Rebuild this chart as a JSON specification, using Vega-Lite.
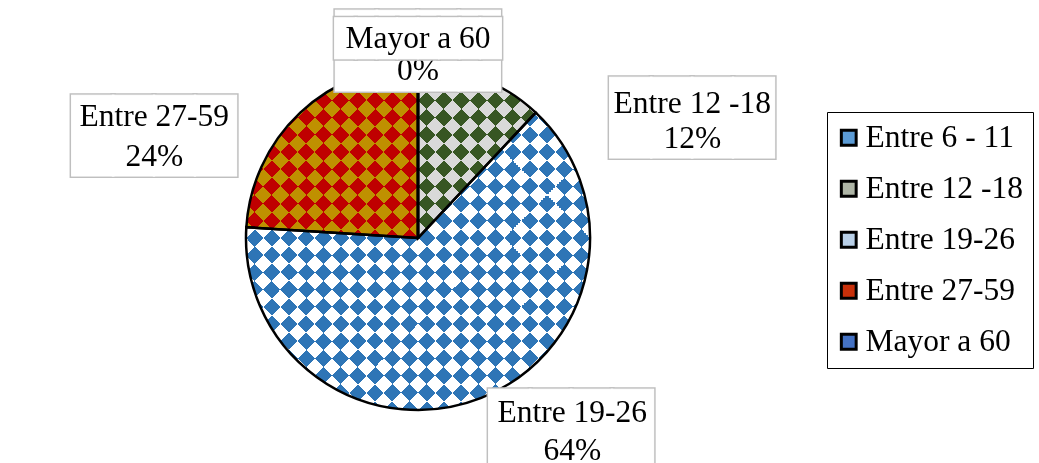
{
  "$schema": "https://vega.github.io/schema/vega-lite/v6.json",
  "autosize": "none",
  "padding": {"left": 8, "top": 10, "right": 0, "bottom": 0},
  "width": 1040,
  "height": 470,
  "background": "#ffffff",
  "config": {
    "view": {"stroke": "#000000", "strokeWidth": 2},
    "text": {"font": "Liberation Serif", "fontSize": 31.5, "fill": "#000000"}
  },
  "data": {
    "values": [
      {"grupo": "Entre 6 - 11", "porcentaje": 0},
      {"grupo": "Entre 12 -18", "porcentaje": 0.12},
      {"grupo": "Entre 19-26", "porcentaje": 0.64},
      {"grupo": "Entre 27-59", "porcentaje": 0.24},
      {"grupo": "Mayor a 60", "porcentaje": 0}
    ]
  },
  "resolve": {"scale": {"color": "independent"}, "legend": {"color": "independent"}},
  "layer": [
    {
      "transform": [{"aggregate": [{"op": "sum", "field": "porcentaje", "as": "porcentaje"}]}],
      "mark": {
        "type": "arc", "x": 410, "y": 228, "radius": 172,
        "fill": {
          "gradient": "linear", "x1": 0, "y1": 0, "x2": 1, "y2": 1,
          "stops": [
            {"offset": 0, "color": "#fff"}, {"offset": 0.025, "color": "#fff"},
            {"offset": 0.025, "color": "#000"}, {"offset": 0.05, "color": "#000"},
            {"offset": 0.05, "color": "#fff"}, {"offset": 0.075, "color": "#fff"},
            {"offset": 0.075, "color": "#000"}, {"offset": 0.1, "color": "#000"},
            {"offset": 0.1, "color": "#fff"}, {"offset": 0.125, "color": "#fff"},
            {"offset": 0.125, "color": "#000"}, {"offset": 0.15, "color": "#000"},
            {"offset": 0.15, "color": "#fff"}, {"offset": 0.175, "color": "#fff"},
            {"offset": 0.175, "color": "#000"}, {"offset": 0.2, "color": "#000"},
            {"offset": 0.2, "color": "#fff"}, {"offset": 0.225, "color": "#fff"},
            {"offset": 0.225, "color": "#000"}, {"offset": 0.25, "color": "#000"},
            {"offset": 0.25, "color": "#fff"}, {"offset": 0.275, "color": "#fff"},
            {"offset": 0.275, "color": "#000"}, {"offset": 0.3, "color": "#000"},
            {"offset": 0.3, "color": "#fff"}, {"offset": 0.325, "color": "#fff"},
            {"offset": 0.325, "color": "#000"}, {"offset": 0.35, "color": "#000"},
            {"offset": 0.35, "color": "#fff"}, {"offset": 0.375, "color": "#fff"},
            {"offset": 0.375, "color": "#000"}, {"offset": 0.4, "color": "#000"},
            {"offset": 0.4, "color": "#fff"}, {"offset": 0.425, "color": "#fff"},
            {"offset": 0.425, "color": "#000"}, {"offset": 0.45, "color": "#000"},
            {"offset": 0.45, "color": "#fff"}, {"offset": 0.475, "color": "#fff"},
            {"offset": 0.475, "color": "#000"}, {"offset": 0.5, "color": "#000"},
            {"offset": 0.5, "color": "#fff"}, {"offset": 0.525, "color": "#fff"},
            {"offset": 0.525, "color": "#000"}, {"offset": 0.55, "color": "#000"},
            {"offset": 0.55, "color": "#fff"}, {"offset": 0.575, "color": "#fff"},
            {"offset": 0.575, "color": "#000"}, {"offset": 0.6, "color": "#000"},
            {"offset": 0.6, "color": "#fff"}, {"offset": 0.625, "color": "#fff"},
            {"offset": 0.625, "color": "#000"}, {"offset": 0.65, "color": "#000"},
            {"offset": 0.65, "color": "#fff"}, {"offset": 0.675, "color": "#fff"},
            {"offset": 0.675, "color": "#000"}, {"offset": 0.7, "color": "#000"},
            {"offset": 0.7, "color": "#fff"}, {"offset": 0.725, "color": "#fff"},
            {"offset": 0.725, "color": "#000"}, {"offset": 0.75, "color": "#000"},
            {"offset": 0.75, "color": "#fff"}, {"offset": 0.775, "color": "#fff"},
            {"offset": 0.775, "color": "#000"}, {"offset": 0.8, "color": "#000"},
            {"offset": 0.8, "color": "#fff"}, {"offset": 0.825, "color": "#fff"},
            {"offset": 0.825, "color": "#000"}, {"offset": 0.85, "color": "#000"},
            {"offset": 0.85, "color": "#fff"}, {"offset": 0.875, "color": "#fff"},
            {"offset": 0.875, "color": "#000"}, {"offset": 0.9, "color": "#000"},
            {"offset": 0.9, "color": "#fff"}, {"offset": 0.925, "color": "#fff"},
            {"offset": 0.925, "color": "#000"}, {"offset": 0.95, "color": "#000"},
            {"offset": 0.95, "color": "#fff"}, {"offset": 0.975, "color": "#fff"},
            {"offset": 0.975, "color": "#000"}, {"offset": 1, "color": "#000"}
          ]
        }
      },
      "encoding": {"theta": {"field": "porcentaje", "type": "quantitative", "stack": true}}
    },
    {
      "transform": [{"aggregate": [{"op": "sum", "field": "porcentaje", "as": "porcentaje"}]}],
      "mark": {
        "type": "arc", "x": 410, "y": 228, "radius": 172, "blend": "difference",
        "fill": {
          "gradient": "linear", "x1": 0, "y1": 1, "x2": 1, "y2": 0,
          "stops": [
            {"offset": 0, "color": "#fff"}, {"offset": 0.025, "color": "#fff"},
            {"offset": 0.025, "color": "#000"}, {"offset": 0.05, "color": "#000"},
            {"offset": 0.05, "color": "#fff"}, {"offset": 0.075, "color": "#fff"},
            {"offset": 0.075, "color": "#000"}, {"offset": 0.1, "color": "#000"},
            {"offset": 0.1, "color": "#fff"}, {"offset": 0.125, "color": "#fff"},
            {"offset": 0.125, "color": "#000"}, {"offset": 0.15, "color": "#000"},
            {"offset": 0.15, "color": "#fff"}, {"offset": 0.175, "color": "#fff"},
            {"offset": 0.175, "color": "#000"}, {"offset": 0.2, "color": "#000"},
            {"offset": 0.2, "color": "#fff"}, {"offset": 0.225, "color": "#fff"},
            {"offset": 0.225, "color": "#000"}, {"offset": 0.25, "color": "#000"},
            {"offset": 0.25, "color": "#fff"}, {"offset": 0.275, "color": "#fff"},
            {"offset": 0.275, "color": "#000"}, {"offset": 0.3, "color": "#000"},
            {"offset": 0.3, "color": "#fff"}, {"offset": 0.325, "color": "#fff"},
            {"offset": 0.325, "color": "#000"}, {"offset": 0.35, "color": "#000"},
            {"offset": 0.35, "color": "#fff"}, {"offset": 0.375, "color": "#fff"},
            {"offset": 0.375, "color": "#000"}, {"offset": 0.4, "color": "#000"},
            {"offset": 0.4, "color": "#fff"}, {"offset": 0.425, "color": "#fff"},
            {"offset": 0.425, "color": "#000"}, {"offset": 0.45, "color": "#000"},
            {"offset": 0.45, "color": "#fff"}, {"offset": 0.475, "color": "#fff"},
            {"offset": 0.475, "color": "#000"}, {"offset": 0.5, "color": "#000"},
            {"offset": 0.5, "color": "#fff"}, {"offset": 0.525, "color": "#fff"},
            {"offset": 0.525, "color": "#000"}, {"offset": 0.55, "color": "#000"},
            {"offset": 0.55, "color": "#fff"}, {"offset": 0.575, "color": "#fff"},
            {"offset": 0.575, "color": "#000"}, {"offset": 0.6, "color": "#000"},
            {"offset": 0.6, "color": "#fff"}, {"offset": 0.625, "color": "#fff"},
            {"offset": 0.625, "color": "#000"}, {"offset": 0.65, "color": "#000"},
            {"offset": 0.65, "color": "#fff"}, {"offset": 0.675, "color": "#fff"},
            {"offset": 0.675, "color": "#000"}, {"offset": 0.7, "color": "#000"},
            {"offset": 0.7, "color": "#fff"}, {"offset": 0.725, "color": "#fff"},
            {"offset": 0.725, "color": "#000"}, {"offset": 0.75, "color": "#000"},
            {"offset": 0.75, "color": "#fff"}, {"offset": 0.775, "color": "#fff"},
            {"offset": 0.775, "color": "#000"}, {"offset": 0.8, "color": "#000"},
            {"offset": 0.8, "color": "#fff"}, {"offset": 0.825, "color": "#fff"},
            {"offset": 0.825, "color": "#000"}, {"offset": 0.85, "color": "#000"},
            {"offset": 0.85, "color": "#fff"}, {"offset": 0.875, "color": "#fff"},
            {"offset": 0.875, "color": "#000"}, {"offset": 0.9, "color": "#000"},
            {"offset": 0.9, "color": "#fff"}, {"offset": 0.925, "color": "#fff"},
            {"offset": 0.925, "color": "#000"}, {"offset": 0.95, "color": "#000"},
            {"offset": 0.95, "color": "#fff"}, {"offset": 0.975, "color": "#fff"},
            {"offset": 0.975, "color": "#000"}, {"offset": 1, "color": "#000"}
          ]
        }
      },
      "encoding": {"theta": {"field": "porcentaje", "type": "quantitative", "stack": true}}
    },
    {
      "mark": {"type": "arc", "x": 410, "y": 228, "radius": 172, "blend": "lighten"},
      "encoding": {
        "theta": {"field": "porcentaje", "type": "quantitative", "stack": true},
        "order": {"field": "grupo", "type": "ordinal"},
        "color": {
          "field": "grupo", "type": "nominal", "legend": null,
          "scale": {
            "domain": ["Entre 6 - 11", "Entre 12 -18", "Entre 19-26", "Entre 27-59", "Mayor a 60"],
            "range": ["#5B9BD5", "#375623", "#2E75B6", "#BF0000", "#4472C4"]
          }
        }
      }
    },
    {
      "mark": {"type": "arc", "x": 410, "y": 228, "radius": 172, "blend": "darken"},
      "encoding": {
        "theta": {"field": "porcentaje", "type": "quantitative", "stack": true},
        "order": {"field": "grupo", "type": "ordinal"},
        "color": {
          "field": "grupo", "type": "nominal", "legend": null,
          "scale": {
            "domain": ["Entre 6 - 11", "Entre 12 -18", "Entre 19-26", "Entre 27-59", "Mayor a 60"],
            "range": ["#5B9BD5", "#D9D9D9", "#FFFFFF", "#BF9000", "#4472C4"]
          }
        }
      }
    },
    {
      "mark": {"type": "arc", "x": 410, "y": 228, "radius": 172, "stroke": "#000000", "strokeWidth": 2.5, "fillOpacity": 0},
      "encoding": {
        "theta": {"field": "porcentaje", "type": "quantitative", "stack": true},
        "order": {"field": "grupo", "type": "ordinal"},
        "color": {
          "field": "grupo", "type": "nominal",
          "scale": {
            "domain": ["Entre 6 - 11", "Entre 12 -18", "Entre 19-26", "Entre 27-59", "Mayor a 60"],
            "range": ["#5B9BD5", "#AEB5A6", "#B9D0E8", "#C8300A", "#4472C4"]
          },
          "legend": {
            "title": null,
            "orient": "none",
            "legendX": 819,
            "legendY": 102,
            "direction": "vertical",
            "strokeColor": "#000000",
            "padding": 10,
            "symbolType": "square",
            "symbolSize": 220,
            "symbolStrokeWidth": 3,
            "symbolOffset": -4,
            "labelFont": "Liberation Serif",
            "labelFontSize": 31.5,
            "labelColor": "#000000",
            "labelOffset": 1,
            "labelLimit": 300,
            "rowPadding": 18,
            "encode": {
              "symbols": {"update": {"fillOpacity": {"value": 1}, "stroke": {"value": "#000000"}, "strokeWidth": {"value": 3}}},
              "legend": {"update": {"strokeWidth": {"value": 2}}}
            }
          }
        }
      }
    },

    {
      "mark": {"type": "text", "x": 410, "y": 228, "radius": 172, "dx": -146, "dy": 26, "font": "DejaVu Sans Mono", "fontSize": 68, "fill": "#BFBFBF", "stroke": "#BFBFBF", "strokeWidth": 4, "strokeJoin": "miter"},
      "encoding": {
        "theta": {"field": "porcentaje", "type": "quantitative", "stack": true},
        "order": {"field": "grupo", "type": "ordinal"},
        "detail": {"field": "grupo"},
        "text": {"condition": {"test": "datum.grupo === 'Entre 27-59'", "value": "████"}, "value": ""}
      }
    },
    {
      "mark": {"type": "text", "x": 410, "y": 228, "radius": 172, "dx": -146, "dy": 26, "font": "DejaVu Sans Mono", "fontSize": 68, "fill": "#FFFFFF", "stroke": "#FFFFFF", "strokeWidth": 1},
      "encoding": {
        "theta": {"field": "porcentaje", "type": "quantitative", "stack": true},
        "order": {"field": "grupo", "type": "ordinal"},
        "detail": {"field": "grupo"},
        "text": {"condition": {"test": "datum.grupo === 'Entre 27-59'", "value": "████"}, "value": ""}
      }
    },
    {
      "mark": {"type": "text", "x": 410, "y": 228, "radius": 172, "dx": -146, "dy": 4.5},
      "encoding": {
        "theta": {"field": "porcentaje", "type": "quantitative", "stack": true},
        "order": {"field": "grupo", "type": "ordinal"},
        "detail": {"field": "grupo"},
        "text": {"condition": {"test": "datum.grupo === 'Entre 27-59'", "field": "grupo", "type": "nominal"}, "value": ""}
      }
    },
    {
      "mark": {"type": "text", "x": 410, "y": 228, "radius": 172, "dx": -146, "dy": 44.5},
      "encoding": {
        "theta": {"field": "porcentaje", "type": "quantitative", "stack": true},
        "order": {"field": "grupo", "type": "ordinal"},
        "detail": {"field": "grupo"},
        "text": {"condition": {"test": "datum.grupo === 'Entre 27-59'", "field": "porcentaje", "type": "quantitative", "format": ".0%"}, "value": ""}
      }
    },

    {
      "mark": {"type": "text", "x": 410, "y": 228, "radius": 172, "dx": 211, "dy": 43, "font": "DejaVu Sans Mono", "fontSize": 68, "fill": "#BFBFBF", "stroke": "#BFBFBF", "strokeWidth": 4, "strokeJoin": "miter"},
      "encoding": {
        "theta": {"field": "porcentaje", "type": "quantitative", "stack": true},
        "order": {"field": "grupo", "type": "ordinal"},
        "detail": {"field": "grupo"},
        "text": {"condition": {"test": "datum.grupo === 'Entre 12 -18'", "value": "████"}, "value": ""}
      }
    },
    {
      "mark": {"type": "text", "x": 410, "y": 228, "radius": 172, "dx": 211, "dy": 43, "font": "DejaVu Sans Mono", "fontSize": 68, "fill": "#FFFFFF", "stroke": "#FFFFFF", "strokeWidth": 1},
      "encoding": {
        "theta": {"field": "porcentaje", "type": "quantitative", "stack": true},
        "order": {"field": "grupo", "type": "ordinal"},
        "detail": {"field": "grupo"},
        "text": {"condition": {"test": "datum.grupo === 'Entre 12 -18'", "value": "████"}, "value": ""}
      }
    },
    {
      "mark": {"type": "text", "x": 410, "y": 228, "radius": 172, "dx": 211, "dy": 26},
      "encoding": {
        "theta": {"field": "porcentaje", "type": "quantitative", "stack": true},
        "order": {"field": "grupo", "type": "ordinal"},
        "detail": {"field": "grupo"},
        "text": {"condition": {"test": "datum.grupo === 'Entre 12 -18'", "field": "grupo", "type": "nominal"}, "value": ""}
      }
    },
    {
      "mark": {"type": "text", "x": 410, "y": 228, "radius": 172, "dx": 211, "dy": 61},
      "encoding": {
        "theta": {"field": "porcentaje", "type": "quantitative", "stack": true},
        "order": {"field": "grupo", "type": "ordinal"},
        "detail": {"field": "grupo"},
        "text": {"condition": {"test": "datum.grupo === 'Entre 12 -18'", "field": "porcentaje", "type": "quantitative", "format": ".0%"}, "value": ""}
      }
    },

    {
      "mark": {"type": "text", "x": 410, "y": 228, "radius": 172, "dx": 90, "dy": 35, "font": "DejaVu Sans Mono", "fontSize": 68, "fill": "#BFBFBF", "stroke": "#BFBFBF", "strokeWidth": 4, "strokeJoin": "miter"},
      "encoding": {
        "theta": {"field": "porcentaje", "type": "quantitative", "stack": true},
        "order": {"field": "grupo", "type": "ordinal"},
        "detail": {"field": "grupo"},
        "text": {"condition": {"test": "datum.grupo === 'Entre 19-26'", "value": "████"}, "value": ""}
      }
    },
    {
      "mark": {"type": "text", "x": 410, "y": 228, "radius": 172, "dx": 90, "dy": 35, "font": "DejaVu Sans Mono", "fontSize": 68, "fill": "#FFFFFF", "stroke": "#FFFFFF", "strokeWidth": 1},
      "encoding": {
        "theta": {"field": "porcentaje", "type": "quantitative", "stack": true},
        "order": {"field": "grupo", "type": "ordinal"},
        "detail": {"field": "grupo"},
        "text": {"condition": {"test": "datum.grupo === 'Entre 19-26'", "value": "████"}, "value": ""}
      }
    },
    {
      "mark": {"type": "text", "x": 410, "y": 228, "radius": 172, "dx": 91, "dy": 15},
      "encoding": {
        "theta": {"field": "porcentaje", "type": "quantitative", "stack": true},
        "order": {"field": "grupo", "type": "ordinal"},
        "detail": {"field": "grupo"},
        "text": {"condition": {"test": "datum.grupo === 'Entre 19-26'", "field": "grupo", "type": "nominal"}, "value": ""}
      }
    },
    {
      "mark": {"type": "text", "x": 410, "y": 228, "radius": 172, "dx": 91, "dy": 53},
      "encoding": {
        "theta": {"field": "porcentaje", "type": "quantitative", "stack": true},
        "order": {"field": "grupo", "type": "ordinal"},
        "detail": {"field": "grupo"},
        "text": {"condition": {"test": "datum.grupo === 'Entre 19-26'", "field": "porcentaje", "type": "quantitative", "format": ".0%"}, "value": ""}
      }
    },

    {
      "mark": {"type": "text", "x": 410, "y": 228, "radius": 172, "dx": 0, "dy": -12, "font": "DejaVu Sans Mono", "fontSize": 68, "fill": "#BFBFBF", "stroke": "#BFBFBF", "strokeWidth": 4, "strokeJoin": "miter"},
      "encoding": {
        "theta": {"field": "porcentaje", "type": "quantitative", "stack": true},
        "order": {"field": "grupo", "type": "ordinal"},
        "detail": {"field": "grupo"},
        "text": {"condition": {"test": "datum.grupo === 'Mayor a 60'", "value": "████"}, "value": ""}
      }
    },
    {
      "mark": {"type": "text", "x": 410, "y": 228, "radius": 172, "dx": 0, "dy": -12, "font": "DejaVu Sans Mono", "fontSize": 68, "fill": "#FFFFFF", "stroke": "#FFFFFF", "strokeWidth": 1},
      "encoding": {
        "theta": {"field": "porcentaje", "type": "quantitative", "stack": true},
        "order": {"field": "grupo", "type": "ordinal"},
        "detail": {"field": "grupo"},
        "text": {"condition": {"test": "datum.grupo === 'Mayor a 60'", "value": "████"}, "value": ""}
      }
    },
    {
      "mark": {"type": "text", "x": 410, "y": 228, "radius": 172, "dx": 0, "dy": 5},
      "encoding": {
        "theta": {"field": "porcentaje", "type": "quantitative", "stack": true},
        "order": {"field": "grupo", "type": "ordinal"},
        "detail": {"field": "grupo"},
        "text": {"condition": {"test": "datum.grupo === 'Mayor a 60'", "field": "porcentaje", "type": "quantitative", "format": ".0%"}, "value": ""}
      }
    },
    {
      "mark": {"type": "text", "x": 410, "y": 228, "radius": 172, "dx": 0, "dy": -26.5, "font": "DejaVu Sans Mono", "fontSize": 34.5, "fill": "#BFBFBF", "stroke": "#BFBFBF", "strokeWidth": 4, "strokeJoin": "miter"},
      "encoding": {
        "theta": {"field": "porcentaje", "type": "quantitative", "stack": true},
        "order": {"field": "grupo", "type": "ordinal"},
        "detail": {"field": "grupo"},
        "text": {"condition": {"test": "datum.grupo === 'Mayor a 60'", "value": "████████"}, "value": ""}
      }
    },
    {
      "mark": {"type": "text", "x": 410, "y": 228, "radius": 172, "dx": 0, "dy": -26.5, "font": "DejaVu Sans Mono", "fontSize": 34.5, "fill": "#FFFFFF", "stroke": "#FFFFFF", "strokeWidth": 1},
      "encoding": {
        "theta": {"field": "porcentaje", "type": "quantitative", "stack": true},
        "order": {"field": "grupo", "type": "ordinal"},
        "detail": {"field": "grupo"},
        "text": {"condition": {"test": "datum.grupo === 'Mayor a 60'", "value": "████████"}, "value": ""}
      }
    },
    {
      "mark": {"type": "text", "x": 410, "y": 228, "radius": 172, "dx": 0, "dy": -27},
      "encoding": {
        "theta": {"field": "porcentaje", "type": "quantitative", "stack": true},
        "order": {"field": "grupo", "type": "ordinal"},
        "detail": {"field": "grupo"},
        "text": {"condition": {"test": "datum.grupo === 'Mayor a 60'", "field": "grupo", "type": "nominal"}, "value": ""}
      }
    }
  ]
}
